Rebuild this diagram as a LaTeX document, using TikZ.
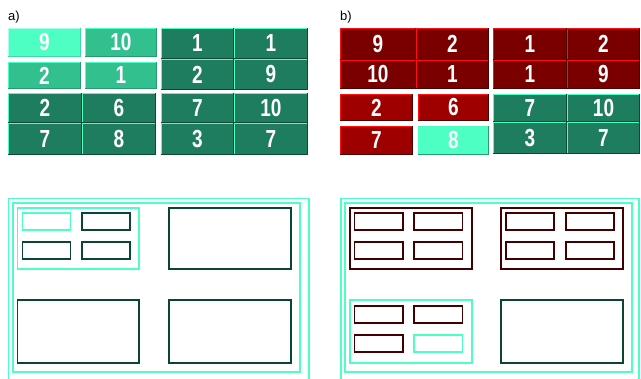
\documentclass[tikz,border=0pt]{standalone}
\usepackage{fontspec}
\setmainfont{Liberation Sans}
\usepackage{graphicx}
\definecolor{mint}{HTML}{4DFFC2}
\definecolor{mintHi}{HTML}{A8FFEC}
\definecolor{mintSh}{HTML}{3FD9A6}
\definecolor{midg}{HTML}{33C08F}
\definecolor{midgSh}{HTML}{279A72}
\definecolor{darkg}{HTML}{1E7D5E}
\definecolor{darkgSh}{HTML}{0D4A36}
\definecolor{darkr}{HTML}{7A0000}
\definecolor{midr}{HTML}{9E0000}
\definecolor{redHi}{HTML}{FF1010}
\definecolor{redSh}{HTML}{480000}
\definecolor{lineg}{HTML}{0B4534}
\definecolor{liner}{HTML}{420000}
\tikzset{
  cellnode/.style={draw=none, inner sep=0pt, text=white,
    font=\fontsize{19}{19}\bfseries},
  lab/.style={inner sep=0pt, anchor=west, font=\fontsize{13}{13}\selectfont},
  mintline/.style={draw=mint, line width=1.6pt},
  gline/.style={draw=lineg, line width=1.9pt},
  rline/.style={draw=liner, line width=1.9pt},
}
% name, x1, y1, x2, y2, fill, hi, sh, text
\newcommand{\cellbox}[9]{%
  \node[cellnode, fill=#6, minimum width={(#4-#2)*1pt}, minimum height={(#5-#3)*1pt}]
    (#1) at ({(#2+#4)/2},{(#3+#5)/2}) {\scalebox{1}[1.3]{#9}};
  \draw[#7, line width=1.2pt] ([xshift=0.6pt]#1.south west) -- ([shift={(0.6pt,-0.6pt)}]#1.north west) -- ([yshift=-0.6pt]#1.north east);
  \draw[#8, line width=1.4pt] ([yshift=0.7pt]#1.south west) -- ([shift={(-0.7pt,0.7pt)}]#1.south east) -- ([xshift=-0.7pt]#1.north east);
}
\begin{document}
\begin{tikzpicture}[x=1pt,y=-1pt]
\useasboundingbox (0,0) rectangle (641,379);
% labels
\node[lab] (la) at (8,17) {a)};
\node[lab] (lb) at (340,17) {b)};
% ---- panel a grid ----
\cellbox{a1}{8}{28}{81}{57}{mint}{mintHi}{mintSh}{9}
\cellbox{a2}{85}{28}{157}{57}{midg}{mint}{midgSh}{10}
\cellbox{a3}{8}{62}{81}{89}{midg}{mint}{midgSh}{2}
\cellbox{a4}{85}{62}{157}{89}{midg}{mint}{midgSh}{1}
\cellbox{a5}{161}{28}{234}{59}{darkg}{mint}{darkgSh}{1}
\cellbox{a6}{234}{28}{308}{59}{darkg}{mint}{darkgSh}{1}
\cellbox{a7}{161}{59}{234}{90}{darkg}{mint}{darkgSh}{2}
\cellbox{a8}{234}{59}{308}{90}{darkg}{mint}{darkgSh}{9}
\cellbox{a9}{8}{93}{82}{123}{darkg}{mint}{darkgSh}{2}
\cellbox{a10}{82}{93}{156}{123}{darkg}{mint}{darkgSh}{6}
\cellbox{a11}{8}{123}{82}{155}{darkg}{mint}{darkgSh}{7}
\cellbox{a12}{82}{123}{156}{155}{darkg}{mint}{darkgSh}{8}
\cellbox{a13}{161}{93}{234}{123}{darkg}{mint}{darkgSh}{7}
\cellbox{a14}{234}{93}{308}{123}{darkg}{mint}{darkgSh}{10}
\cellbox{a15}{161}{123}{234}{155}{darkg}{mint}{darkgSh}{3}
\cellbox{a16}{234}{123}{308}{155}{darkg}{mint}{darkgSh}{7}
% ---- panel b grid ----
\cellbox{b1}{340}{28}{416}{60}{darkr}{redHi}{redSh}{9}
\cellbox{b2}{416}{28}{489}{60}{darkr}{redHi}{redSh}{2}
\cellbox{b3}{340}{60}{416}{89}{darkr}{redHi}{redSh}{10}
\cellbox{b4}{416}{60}{489}{89}{darkr}{redHi}{redSh}{1}
\cellbox{b5}{493}{28}{567}{60}{darkr}{redHi}{redSh}{1}
\cellbox{b6}{567}{28}{640}{60}{darkr}{redHi}{redSh}{2}
\cellbox{b7}{493}{60}{567}{89}{darkr}{redHi}{redSh}{1}
\cellbox{b8}{567}{60}{640}{89}{darkr}{redHi}{redSh}{9}
\cellbox{b9}{340}{94}{413}{121}{midr}{redHi}{redSh}{2}
\cellbox{b10}{418}{94}{489}{121}{midr}{redHi}{redSh}{6}
\cellbox{b11}{340}{126}{413}{155}{midr}{redHi}{redSh}{7}
\cellbox{b12}{418}{126}{489}{155}{mint}{mint}{midgSh}{8}
\cellbox{b13}{493}{94}{567}{122}{darkg}{mint}{darkgSh}{7}
\cellbox{b14}{567}{94}{640}{122}{darkg}{mint}{darkgSh}{10}
\cellbox{b15}{493}{122}{567}{154}{darkg}{mint}{darkgSh}{3}
\cellbox{b16}{567}{122}{640}{154}{darkg}{mint}{darkgSh}{7}
% ---- panel a outlines ----
\draw[mintline] (8.5,379) -- (8.5,198.5) -- (309,198.5) -- (309,379);
\draw[mintline] (13,203) rectangle (300,372);
\draw[mintline] (17.5,208) rectangle (139,269);
\draw[mintline] (22.5,213) rectangle (70.5,230);
\draw[gline] (82,213) rectangle (130,230);
\draw[gline] (22.5,242) rectangle (70.5,259);
\draw[gline] (82,242) rectangle (130,259);
\draw[gline] (169,208) rectangle (291,269);
\draw[gline] (17.5,300) rectangle (139,363);
\draw[gline] (169,300) rectangle (291,363);
% ---- panel b outlines ----
\draw[mintline] (341,379) -- (341,198.5) -- (639,198.5) -- (639,379);
\draw[mintline] (345,203) rectangle (632,372);
\draw[rline] (350,208) rectangle (472,269);
\draw[rline] (354.5,213) rectangle (403,230);
\draw[rline] (414,213) rectangle (462.5,230);
\draw[rline] (354.5,242) rectangle (403,259);
\draw[rline] (414,242) rectangle (462.5,259);
\draw[rline] (501,208) rectangle (623,269);
\draw[rline] (506,213) rectangle (554,230);
\draw[rline] (566,213) rectangle (614,230);
\draw[rline] (506,242) rectangle (554,259);
\draw[rline] (566,242) rectangle (614,259);
\draw[mintline] (350,300) rectangle (472,363);
\draw[rline] (354.5,306) rectangle (403,323);
\draw[rline] (414,306) rectangle (462.5,323);
\draw[rline] (354.5,335) rectangle (403,352);
\draw[mintline] (414,335) rectangle (462.5,352);
\draw[gline] (501,300) rectangle (623,363);
\end{tikzpicture}
\end{document}
